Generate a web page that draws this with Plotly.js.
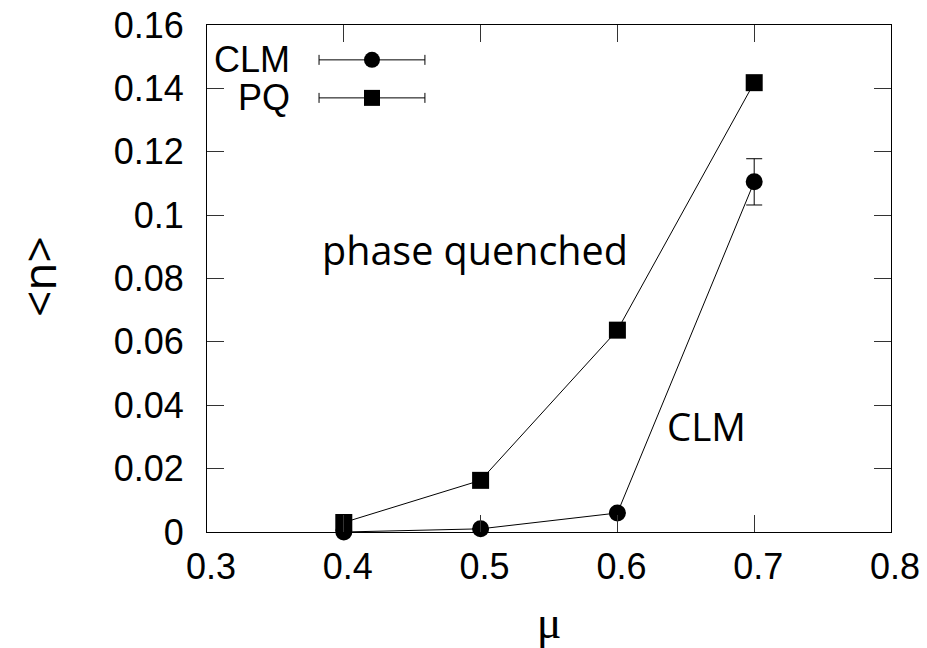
<!DOCTYPE html>
<html>
<head>
<meta charset="utf-8">
<script src="https://cdn.plot.ly/plotly-3.0.1.min.js"></script>
<style>html,body{margin:0;padding:0;background:#fff;}#chart{width:927px;height:648px;}</style>
</head>
<body>
<div id="chart"></div>
<script>
// Data
const mu = [0.4, 0.5, 0.6, 0.7];
const clm = [0.0, 0.001, 0.006, 0.1105];
const clmErr = [0.0, 0.0, 0.0, 0.0073];
const pq = [0.003, 0.0163, 0.0637, 0.1418];
const seriesNames = ["CLM", "PQ"];
const xTicks = [0.3, 0.4, 0.5, 0.6, 0.7, 0.8];
const yTicks = [0, 0.02, 0.04, 0.06, 0.08, 0.1, 0.12, 0.14, 0.16];

// legend sample positions (data coordinates)
const legX = 0.4206, legHalf = 0.0387;
const legY = [0.149, 0.137];
const legLabelX = 0.3621;

const black = '#000';
const traces = [
  {x: mu, y: pq, mode: 'lines+markers', name: seriesNames[1], cliponaxis: false,
   line: {color: black, width: 1}, marker: {symbol: 'square', size: 17, color: black}},
  {x: mu, y: clm, mode: 'lines+markers', name: seriesNames[0], cliponaxis: false,
   line: {color: black, width: 1}, marker: {symbol: 'circle', size: 17, color: black},
   error_y: {type: 'data', array: clmErr, visible: true, color: black, thickness: 1, width: 8}},
  // legend samples
  {x: [legX], y: [legY[0]], mode: 'markers', showlegend: false, cliponaxis: false,
   marker: {symbol: 'circle', size: 16, color: black},
   error_x: {type: 'constant', value: legHalf, visible: true, color: black, thickness: 1, width: 5}},
  {x: [legX], y: [legY[1]], mode: 'markers', showlegend: false, cliponaxis: false,
   marker: {symbol: 'square', size: 16, color: black},
   error_x: {type: 'constant', value: legHalf, visible: true, color: black, thickness: 1, width: 5}}
];

const tickFont = {family: '"Liberation Sans", Arial, sans-serif', size: 36, color: black};
const calibri = '"Open Sans", "Lato", sans-serif';

const layout = {
  width: 927, height: 648,
  margin: {l: 207, r: 36, t: 25, b: 116},
  paper_bgcolor: '#fff', plot_bgcolor: '#fff',
  showlegend: false,
  xaxis: {
    range: [0.3, 0.8], tickvals: xTicks, ticktext: xTicks.map(String),
    ticks: 'inside', ticklen: 17, tickcolor: '#333', tickwidth: 1,
    showline: true, linecolor: black, linewidth: 1, mirror: 'ticks',
    showgrid: false, zeroline: false, tickfont: tickFont,
    ticklabelstandoff: 3, ticklabelshift: 4,
    title: {text: 'μ', font: {family: '"Liberation Serif", "DejaVu Serif", serif', size: 46, color: black}, standoff: 24}
  },
  yaxis: {
    range: [0, 0.16], tickvals: yTicks, ticktext: yTicks.map(String),
    ticks: 'inside', ticklen: 17, tickcolor: '#333', tickwidth: 1,
    showline: true, linecolor: black, linewidth: 1, mirror: 'ticks',
    showgrid: false, zeroline: false, tickfont: tickFont,
    ticklabelstandoff: 15
  },
  annotations: [
    {x: -0.247, y: 0.503, xref: 'paper', yref: 'paper', text: '&lt;n&gt;', showarrow: false, textangle: -90,
     font: {family: calibri, size: 46, color: black}, xanchor: 'center', yanchor: 'middle'},
    {x: 0.4959, y: 0.089, xref: 'x', yref: 'y', text: 'phase quenched', showarrow: false,
     font: {family: calibri, size: 39.5, color: black}, xanchor: 'center', yanchor: 'middle'},
    {x: 0.6648, y: 0.0334, xref: 'x', yref: 'y', text: 'CLM', showarrow: false,
     font: {family: calibri, size: 38.5, color: black}, xanchor: 'center', yanchor: 'middle'},
    {x: legLabelX, y: legY[0], xref: 'x', yref: 'y', text: seriesNames[0], showarrow: false,
     font: tickFont, xanchor: 'right', yanchor: 'middle'},
    {x: legLabelX, y: legY[1], xref: 'x', yref: 'y', text: seriesNames[1], showarrow: false,
     font: tickFont, xanchor: 'right', yanchor: 'middle'}
  ]
};

Plotly.newPlot('chart', traces, layout, {staticPlot: true, displayModeBar: false});
</script>
</body>
</html>
